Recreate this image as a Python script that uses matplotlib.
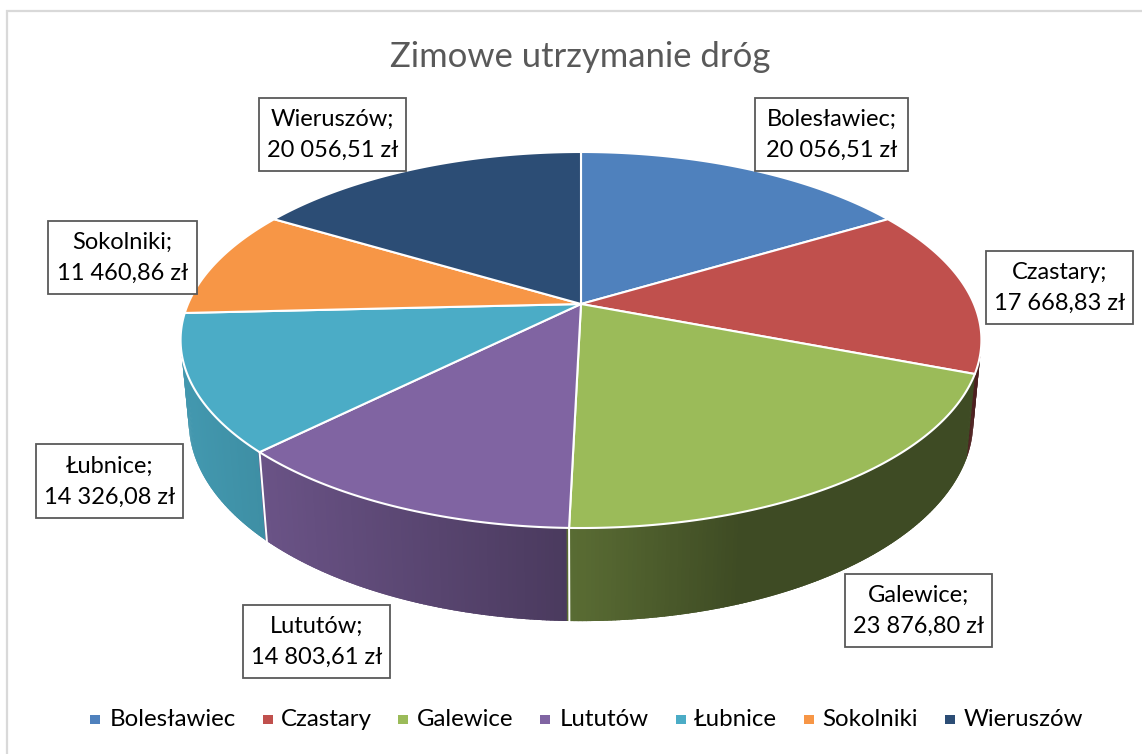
import numpy as np
import matplotlib
matplotlib.use('Agg')
import matplotlib.pyplot as plt
from matplotlib.patches import Polygon, Rectangle

# data
names = ['Bolesławiec', 'Czastary', 'Galewice', 'Lututów', 'Łubnice', 'Sokolniki', 'Wieruszów']
values = [20056.51, 17668.83, 23876.80, 14803.61, 14326.08, 11460.86, 20056.51]
value_labels = ['20 056,51 zł', '17 668,83 zł', '23 876,80 zł', '14 803,61 zł',
                '14 326,08 zł', '11 460,86 zł', '20 056,51 zł']
colors = ['#4f81bd', '#c0504d', '#9bbb59', '#8064a2', '#4bacc6', '#f79646', '#2c4d75']
title = 'Zimowe utrzymanie dróg'

# label boxes in pixels: left, top, right, bottom
boxes = [(755, 98, 908, 171), (986, 251, 1133, 324), (845, 574, 992, 647),
         (243, 605, 390, 678), (36, 444, 183, 518), (48, 221, 197, 294), (259, 98, 406, 171)]
# legend positions in pixels: marker left, text left
legend_pos = [(90, 110), (263, 281), (398, 417), (540, 560), (676, 694), (804, 822), (945, 964)]

plt.rcParams['font.family'] = ['Lato', 'DejaVu Sans']

W, H = 1142, 754
fig = plt.figure(figsize=(W / 100, H / 100), dpi=100)
ax = fig.add_axes([0, 0, 1, 1])
ax.set_xlim(0, W)
ax.set_ylim(H, 0)
ax.axis('off')


# perspective view of the disc, theta clockwise from the top, z=0 top face, z=1 bottom face
def project(theta, z=0.0):
    x = np.sin(theta)
    y = np.cos(theta)
    d = 1 + 0.1915 * y + 0.02 * z
    return 581 + 393 * x / d, (304 - 122.9 * y + 87.7 * z) / d


# the sides get darker from left to right
def shade(color, px):
    f = np.interp(px, [190, 260, 569, 740, 1000], [0.88, 0.83, 0.58, 0.40, 0.40])
    return tuple(c * f for c in matplotlib.colors.to_rgb(color))


# chart frame
ax.plot([7, 7, W], [H, 11, 11], color='#d9d9d9', lw=1.6, solid_joinstyle='miter')

fracs = np.array(values) / np.sum(values)
edges = np.concatenate([[0], np.cumsum(fracs)]) * 2 * np.pi

# side wall, back to front; strips overlap so no seams show
step = np.radians(0.5)
strips = []
for i in range(len(values)):
    th = np.arange(edges[i], edges[i + 1], step)
    for a in th:
        strips.append((a, min(a + step, edges[i + 1]), colors[i]))
strips.sort(key=lambda s: -np.cos((s[0] + s[1]) / 2))
for a, b, col in strips:
    a2 = a - step * 0.6
    b2 = b + step * 0.6
    x0, y0 = project(a2)
    x1, y1 = project(b2)
    x2, y2 = project(b2, 1)
    x3, y3 = project(a2, 1)
    ax.add_patch(Polygon([(x0, y0), (x1, y1), (x2, y2), (x3, y3)], closed=True,
                         facecolor=shade(col, (x0 + x1) / 2), edgecolor='none', zorder=1))

# white lines between the visible walls
for e in edges[3:5]:
    x0, y0 = project(e)
    x1, y1 = project(e, 1)
    ax.plot([x0, x1], [y0, y1], color='white', lw=1.4, zorder=2)

# top face
for i in range(len(values)):
    th = np.linspace(edges[i], edges[i + 1], 120)
    px, py = project(th)
    pts = [(581, 304)] + list(zip(px, py))
    ax.add_patch(Polygon(pts, closed=True, facecolor=colors[i], edgecolor='white',
                         lw=1.5, joinstyle='round', zorder=3))

# data labels
for name, lab, box in zip(names, value_labels, boxes):
    l, t, r, b = box
    ax.add_patch(Rectangle((l, t), r - l, b - t, facecolor='white', edgecolor='#595959', lw=1.3, zorder=5))
    ax.text((l + r) / 2, (t + b) / 2 + 0.5, name + ';\n' + lab, ha='center', va='center', fontsize=17,
            color='black', linespacing=1.6, zorder=6)

ax.text(580, 57, title, ha='center', va='center', fontsize=24.9, color='#595959')

# legend
for name, col, pos in zip(names, colors, legend_pos):
    ax.add_patch(Rectangle((pos[0], 714.5), 9.7, 9.7, facecolor=col, edgecolor='none'))
    ax.text(pos[1], 720, name, ha='left', va='center', fontsize=17.3, color='black')

fig.savefig('out.png', dpi=100)
